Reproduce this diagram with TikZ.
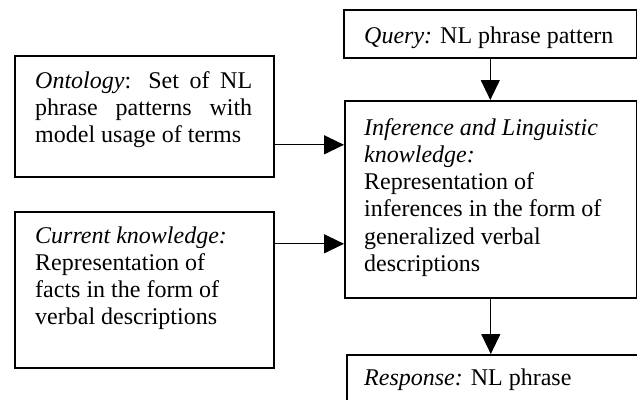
\documentclass[tikz,border=0pt]{standalone}
\usepackage{fontspec}
\setmainfont{Liberation Serif}
\usetikzlibrary{arrows.meta}
\tikzset{
  box/.style={draw=black, line width=1.6pt, rectangle, inner sep=0pt, anchor=north west},
  txt/.style={anchor=base west, inner sep=0pt, font=\fontsize{24}{27.3}\selectfont},
  arr/.style={line width=1.3pt, -{Triangle[length=20pt,width=19pt]}}
}
\begin{document}
\begin{tikzpicture}[x=1pt,y=-1pt]
\useasboundingbox (0,0) rectangle (637,399);
\clip (0,0) rectangle (637,399);
% boxes
\node[box, minimum width=293pt, minimum height=48pt] (query) at (343,9) {};
\node[box, minimum width=292pt, minimum height=197pt] (infer) at (344,100) {};
\node[box, minimum width=259pt, minimum height=121pt] (onto) at (14,55) {};
\node[box, minimum width=259pt, minimum height=156pt] (curr) at (14,211) {};
\node[box, minimum width=310pt, minimum height=80pt] (resp) at (346,354) {};
% texts
\node[txt] (queryt) at (364,43) {\textit{Query:} NL phrase pattern};
\node[txt] (inferT) at (364,135) {\parbox[t]{265pt}{\textit{Inference and Linguistic}\\ \textit{knowledge:}\\ Representation of\\ inferences in the form of\\ generalized verbal\\ descriptions}};
\node[txt] (ontot) at (35,88) {\parbox[t]{217pt}{\makebox[217pt][s]{\textit{Ontology}: Set of NL}\\ \makebox[217pt][s]{phrase patterns with}\\ model usage of terms}};
\node[txt] (currt) at (35,243) {\parbox[t]{230pt}{\textit{Current knowledge:}\\ Representation of\\ facts in the form of\\ verbal descriptions}};
\node[txt] (respt) at (364,385) {\textit{Response:} NL phrase};
% connectors
\coordinate (a1) at ([yshift=-28.5pt]onto.east);
\draw[arr] (a1) -- (a1 -| infer.west);
\coordinate (a2) at ([yshift=46pt]curr.east);
\draw[arr] (a2) -- (a2 -| infer.west);
\draw[arr] (query.south) -- (query.south |- infer.north);
\draw[arr] (infer.south) -- (infer.south |- resp.north);
\end{tikzpicture}
\end{document}
